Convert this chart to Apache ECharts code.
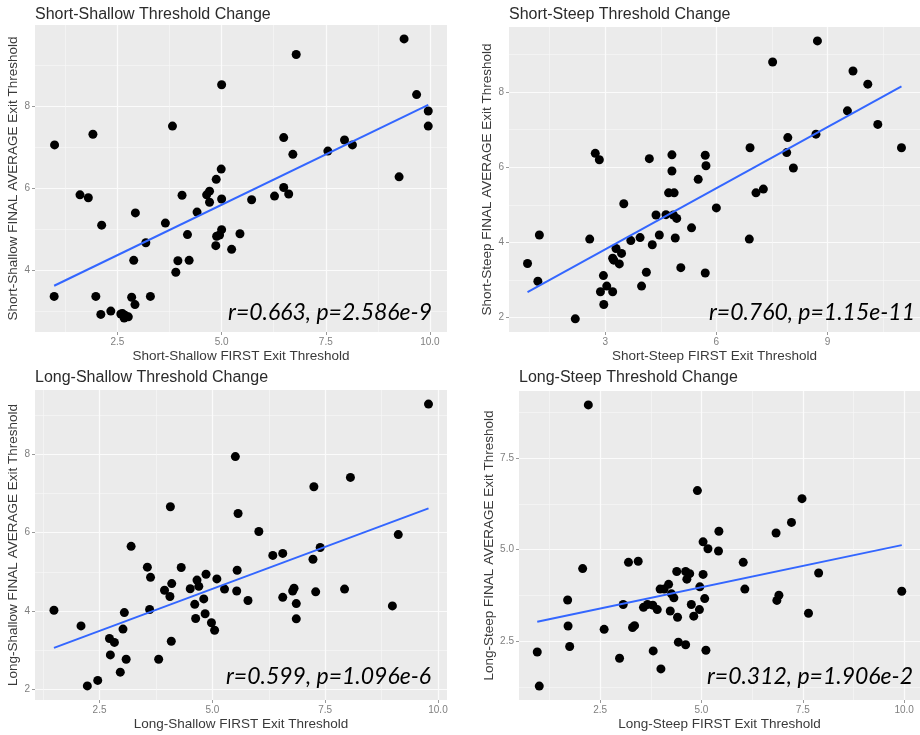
<!DOCTYPE html>
<html>
<head>
<meta charset="utf-8">
<script src="https://cdn.jsdelivr.net/npm/echarts@6/dist/echarts.min.js"></script>
<style>
  html, body { margin: 0; background: #fff; }
  #chart { width: 920px; height: 735px; }
</style>
</head>
<body>
<div id="chart"></div>
<script>
// ---- data ----
const titles = ['Short-Shallow Threshold Change', 'Short-Steep Threshold Change',
                'Long-Shallow Threshold Change', 'Long-Steep Threshold Change'];
const xNames = ['Short-Shallow FIRST Exit Threshold', 'Short-Steep FIRST Exit Threshold',
                'Long-Shallow FIRST Exit Threshold', 'Long-Steep FIRST Exit Threshold'];
const yNames = ['Short-Shallow FINAL AVERAGE Exit Threshold', 'Short-Steep FINAL AVERAGE Exit Threshold',
                'Long-Shallow FINAL AVERAGE Exit Threshold', 'Long-Steep FINAL AVERAGE Exit Threshold'];
const stats = ['r=0.663, p=2.586e-9', 'r=0.760, p=1.15e-11', 'r=0.599, p=1.096e-6', 'r=0.312, p=1.906e-2'];

const ssFirst = [9.38, 6.79, 5.00, 9.68, 9.96, 9.96, 3.82, 1.91, 0.99, 6.49, 7.95, 8.14, 7.55, 6.71, 4.99, 9.26,
  4.87, 4.71, 4.64, 1.60, 1.80, 4.05, 6.49, 6.61, 6.27, 5.72, 5.00, 4.71, 4.41, 2.93, 3.65, 2.12, 4.18, 5.00,
  4.95, 4.88, 5.44, 4.86, 5.24, 3.18, 2.89, 3.95, 4.22, 3.90, 0.98, 1.98, 3.29, 2.84, 2.92, 2.34, 2.10, 2.62,
  2.68, 2.66, 2.76, 2.58];
const ssFinal = [9.65, 9.27, 8.53, 8.29, 7.89, 7.52, 7.52, 7.32, 7.06, 7.24, 7.18, 7.06, 6.91, 6.83, 6.47, 6.28,
  6.22, 5.93, 5.84, 5.84, 5.77, 5.83, 6.02, 5.86, 5.81, 5.72, 5.74, 5.66, 5.42, 5.40, 5.15, 5.10, 4.87, 4.99,
  4.86, 4.83, 4.89, 4.60, 4.51, 4.67, 4.24, 4.23, 4.24, 3.95, 3.36, 3.36, 3.36, 3.34, 3.16, 3.00, 2.92, 2.94,
  2.90, 2.83, 2.86, 2.93];

const stFirst = [8.73, 7.52, 9.69, 10.09, 9.54, 10.36, 8.69, 7.93, 6.91, 11.0, 7.90, 8.08, 2.73, 2.84, 4.19, 4.80,
  5.70, 5.72, 4.80, 5.51, 4.71, 4.86, 7.07, 7.27, 3.50, 6.00, 4.37, 4.64, 4.84, 4.93, 5.33, 4.46, 1.22, 2.58,
  3.69, 3.94, 4.89, 6.89, 4.27, 3.29, 3.44, 3.20, 3.23, 3.38, 0.90, 5.04, 4.11, 5.70, 1.18, 2.95, 3.04, 3.98,
  2.87, 3.20, 2.96, 2.19];
const stFinal = [9.36, 8.80, 8.56, 8.21, 7.50, 7.14, 6.88, 6.79, 6.52, 6.52, 6.39, 5.98, 6.37, 6.20, 6.23, 6.33,
  6.32, 6.04, 5.90, 5.68, 5.32, 5.32, 5.32, 5.42, 5.03, 4.92, 4.73, 4.74, 4.73, 4.64, 4.39, 4.20, 4.20, 4.09,
  4.05, 4.13, 4.12, 4.09, 3.94, 3.84, 3.71, 3.58, 3.53, 3.43, 3.44, 3.33, 3.21, 3.19, 2.97, 3.12, 2.84, 2.84,
  2.69, 2.69, 2.35, 1.97];

const lsFirst = [9.79, 5.51, 8.06, 7.25, 4.07, 5.57, 6.03, 9.12, 3.20, 7.39, 6.56, 6.34, 7.23, 3.56, 4.31, 5.55,
  3.63, 4.86, 5.10, 4.66, 4.10, 4.70, 3.94, 4.51, 5.27, 5.54, 4.06, 7.93, 6.81, 6.78, 7.29, 4.81, 4.61, 6.56,
  5.79, 6.86, 8.99, 1.49, 3.61, 3.05, 4.84, 4.63, 6.86, 4.98, 2.09, 3.02, 5.05, 2.72, 2.83, 4.09, 2.74, 3.09,
  3.81, 2.96, 2.46, 2.23];
const lsFinal = [9.28, 7.94, 7.41, 7.17, 6.66, 6.49, 6.03, 5.95, 5.65, 5.62, 5.47, 5.42, 5.32, 5.12, 5.11, 5.04,
  4.86, 4.94, 4.82, 4.79, 4.70, 4.63, 4.53, 4.57, 4.56, 4.51, 4.37, 4.56, 4.58, 4.51, 4.49, 4.31, 4.17, 4.35,
  4.27, 4.19, 4.13, 4.02, 4.04, 3.96, 3.93, 3.81, 3.80, 3.70, 3.62, 3.54, 3.51, 3.30, 3.20, 3.23, 2.88, 2.77,
  2.77, 2.44, 2.23, 2.09];

const ltFirst = [2.21, 4.90, 7.48, 7.22, 6.84, 5.43, 5.04, 5.16, 5.42, 2.07, 3.20, 3.44, 6.03, 4.39, 4.61, 4.71,
  5.04, 7.89, 4.64, 4.19, 3.98, 4.08, 4.96, 6.07, 9.94, 4.26, 4.32, 6.91, 6.86, 5.08, 1.70, 3.07, 3.57, 3.67,
  3.80, 3.91, 4.75, 4.95, 4.23, 7.64, 4.41, 4.81, 1.71, 3.30, 3.35, 2.60, 1.75, 4.43, 4.61, 0.95, 3.81, 5.11,
  2.98, 4.00, 1.00];
const ltFinal = [8.95, 6.61, 6.39, 5.74, 5.45, 5.50, 5.21, 5.02, 4.96, 4.48, 4.65, 4.68, 4.65, 4.40, 4.40, 4.34,
  4.32, 4.36, 4.19, 4.05, 3.92, 3.92, 3.98, 3.92, 3.86, 3.79, 3.68, 3.75, 3.61, 3.66, 3.62, 3.50, 3.42, 3.50,
  3.48, 3.36, 3.50, 3.36, 3.32, 3.26, 3.15, 3.18, 2.91, 2.87, 2.92, 2.82, 2.35, 2.47, 2.40, 2.20, 2.23, 2.25,
  2.03, 1.74, 1.27];

// fitted line end points (x, y) as drawn in the picture
const ssFit = [[0.98, 3.62], [9.96, 8.04]];
const stFit = [[0.90, 2.68], [11.0, 8.15]];
const lsFit = [[1.49, 3.06], [9.79, 6.62]];
const ltFit = [[0.95, 3.03], [9.94, 5.12]];

// tick values
const xMajor = [[2.5, 5, 7.5, 10], [3, 6, 9], [2.5, 5, 7.5, 10], [2.5, 5, 7.5, 10]];
const xMinor = [[1.25, 3.75, 6.25, 8.75], [1.5, 4.5, 7.5, 10.5], [1.25, 3.75, 6.25, 8.75], [1.25, 3.75, 6.25, 8.75]];
const yMajor = [[4, 6, 8], [2, 4, 6, 8], [2, 4, 6, 8], [2.5, 5, 7.5]];
const yMinor = [[3, 5, 7, 9], [3, 5, 7, 9], [3, 5, 7, 9], [1.25, 3.75, 6.25, 8.75]];
const xDecimals = [1, 0, 1, 1];
const yDecimals = [0, 0, 0, 1];

const firsts = [ssFirst, stFirst, lsFirst, ltFirst];
const finals = [ssFinal, stFinal, lsFinal, ltFinal];
const fits = [ssFit, stFit, lsFit, ltFit];

// ---- layout ----
const layout = [
  { left: 35, top: 25, width: 412, height: 307, xMin: 0.52, xMax: 10.41, yMin: 2.49, yMax: 9.99, yGap: 11, titleTop: 7, statX: 432, statY: 313 },
  { left: 509, top: 27, width: 411, height: 305, xMin: 0.40, xMax: 11.5, yMin: 1.62, yMax: 9.73, yGap: 12, titleTop: 7, statX: 915, statY: 313 },
  { left: 35, top: 390, width: 412, height: 310, xMin: 1.07, xMax: 10.2, yMin: 1.73, yMax: 9.64, yGap: 11, titleTop: 370, statX: 431, statY: 677 },
  { left: 519, top: 391, width: 402, height: 309, xMin: 0.50, xMax: 10.39, yMin: 0.89, yMax: 9.33, yGap: 21, titleTop: 370, statX: 913, statY: 677 }
];

const FONT = 'Liberation Sans, Arial, sans-serif';
const labelColor = '#7f7f7f';

const grids = [], xAxes = [], yAxes = [], series = [], titleList = [], graphics = [];

layout.forEach(function (L, i) {
  grids.push({
    left: L.left, top: L.top, width: L.width, height: L.height,
    show: true, backgroundColor: '#EBEBEB', borderWidth: 0
  });

  // major axes (labels, ticks, major grid lines)
  xAxes.push({
    gridIndex: i, type: 'value', min: L.xMin, max: L.xMax, position: 'bottom',
    name: xNames[i], nameLocation: 'middle', nameGap: 17,
    nameTextStyle: { fontFamily: FONT, fontSize: 13.5, color: '#3a3a3a' },
    axisLine: { show: false },
    axisTick: { show: true, length: 3, customValues: xMajor[i], lineStyle: { color: '#999' } },
    axisLabel: {
      customValues: xMajor[i], margin: 5, fontFamily: FONT, fontSize: 10, color: labelColor,
      formatter: function (v) { return v.toFixed(xDecimals[i]); }
    },
    splitLine: { show: true, lineStyle: { color: '#fbfbfb', width: 1.2 } }
  });
  // minor grid lines
  xAxes.push({
    gridIndex: i, type: 'value', min: L.xMin, max: L.xMax, position: 'bottom',
    axisLine: { show: false }, axisLabel: { show: false },
    axisTick: { show: false, customValues: xMinor[i] },
    splitLine: { show: true, lineStyle: { color: '#f6f6f6', width: 0.7 } }
  });

  yAxes.push({
    gridIndex: i, type: 'value', min: L.yMin, max: L.yMax, position: 'left',
    name: yNames[i], nameLocation: 'middle', nameGap: L.yGap,
    nameTextStyle: { fontFamily: FONT, fontSize: 13.5, color: '#3a3a3a' },
    axisLine: { show: false },
    axisTick: { show: true, length: 3, customValues: yMajor[i], lineStyle: { color: '#999' } },
    axisLabel: {
      customValues: yMajor[i], margin: 5, fontFamily: FONT, fontSize: 10, color: labelColor,
      formatter: function (v) { return v.toFixed(yDecimals[i]); }
    },
    splitLine: { show: true, lineStyle: { color: '#fbfbfb', width: 1.2 } }
  });
  yAxes.push({
    gridIndex: i, type: 'value', min: L.yMin, max: L.yMax, position: 'left',
    axisLine: { show: false }, axisLabel: { show: false },
    axisTick: { show: false, customValues: yMinor[i] },
    splitLine: { show: true, lineStyle: { color: '#f6f6f6', width: 0.7 } }
  });

  series.push({
    type: 'scatter', xAxisIndex: 2 * i, yAxisIndex: 2 * i, z: 3,
    symbolSize: 9, itemStyle: { color: '#000', opacity: 1 },
    data: firsts[i].map(function (x, k) { return [x, finals[i][k]]; }),
    silent: true
  });
  series.push({
    type: 'line', xAxisIndex: 2 * i, yAxisIndex: 2 * i, z: 4,
    symbol: 'none', lineStyle: { color: '#3366FF', width: 2 },
    data: fits[i], silent: true
  });

  titleList.push({
    text: titles[i], left: L.left, top: L.titleTop, padding: 0,
    textStyle: { fontFamily: FONT, fontSize: 16, fontWeight: 'normal', color: '#2b2b2b' }
  });

  graphics.push({
    type: 'text', x: L.statX, y: L.statY, z: 10,
    style: {
      text: stats[i], align: 'right', verticalAlign: 'middle',
      fontFamily: 'Lato, Open Sans, sans-serif', fontStyle: 'italic', fontSize: 23, fill: '#000'
    }
  });
});

const chart = echarts.init(document.getElementById('chart'), null, { renderer: 'canvas' });
chart.setOption({
  animation: false,
  backgroundColor: '#fff',
  title: titleList,
  grid: grids,
  xAxis: xAxes,
  yAxis: yAxes,
  series: series,
  graphic: graphics
});
</script>
</body>
</html>
